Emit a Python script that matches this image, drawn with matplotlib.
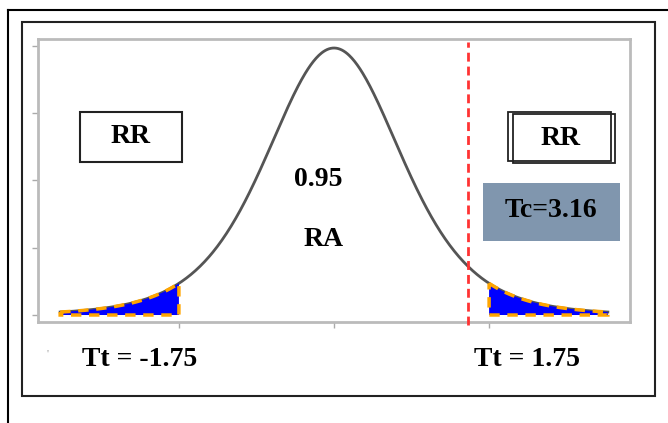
import numpy as np
import matplotlib
matplotlib.use('Agg')
import matplotlib.pyplot as plt
from matplotlib.patches import Rectangle, Polygon
from matplotlib.lines import Line2D

plt.rcParams['font.family'] = ['Liberation Serif', 'DejaVu Serif']

# t-shaped density, x in t units
df = 6
scale = 0.78
peak = 0.397
x_range = (-3.09, 3.09)
crit = 1.75           # Tt
tc_pos = 1.51         # red dashed line where the picture puts it
y_ticks = [0.0, 0.1, 0.2, 0.3, 0.4]
x_ticks = [-crit, 0.0, crit]
tt_labels = ['Tt = -1.75', 'Tt = 1.75']
tc_label = 'Tc=3.16'
area_label = '0.95'
region_labels = ['RR', 'RA', 'RR']


def density(v):
    return peak * (1 + (v / scale) ** 2 / df) ** (-(df + 1) / 2)


W, H = 668, 423
fig = plt.figure(figsize=(W / 100, H / 100), dpi=100)


def fx(px):
    return px / W


def fy(py):
    return 1 - py / H


# outer frames
fig.add_artist(Line2D([fx(8), 1], [fy(10), fy(10)], color='black', lw=1.5))
fig.add_artist(Line2D([fx(8), fx(8)], [fy(10), 0], color='black', lw=1.5))
fig.add_artist(Rectangle((fx(22), fy(396)), fx(655) - fx(22), fy(22) - fy(396),
                         fill=False, edgecolor='#222222', lw=1.5))

ax = fig.add_axes([fx(38), fy(322), fx(630) - fx(38), fy(39) - fy(322)])

x = np.linspace(x_range[0], x_range[1], 600)
ax.plot(x, density(x), color='#555555', lw=2, zorder=2)

# shaded tails
for lo, hi in [(x_range[0], -crit), (crit, x_range[1])]:
    xt = np.linspace(lo, hi, 120)
    yt = density(xt)
    pts = np.column_stack([np.r_[xt, xt[::-1]], np.r_[yt, np.zeros_like(yt)]])
    ax.add_patch(Polygon(pts, closed=True, facecolor='#0000FF',
                         edgecolor='#FFA500', lw=2.5, ls=(0, (3, 2.2)), zorder=3))

ax.axvline(tc_pos, ymin=-0.012, ymax=0.99, color='#FF3333', lw=2,
           ls=(0, (3.2, 1.8)), clip_on=False, zorder=4)

ax.set_xlim(-3.34, 3.34)
ax.set_ylim(-0.0104, 0.4104)
ax.set_xticks(x_ticks)
ax.set_yticks(y_ticks)
ax.set_xticklabels([])
ax.set_yticklabels([])
ax.tick_params(colors='#AAAAAA', length=4, width=1)
for s in ax.spines.values():
    s.set_color('#BBBBBB')
    s.set_linewidth(2)

bold = dict(fontweight='bold', color='black', fontsize=20)

# RR boxes
ax.add_patch(Rectangle((-2.87, 0.228), 1.15, 0.074, fill=False,
                       edgecolor='#222222', lw=1.5))
ax.text(-2.29, 0.265, region_labels[0], ha='center', va='center', **bold)
ax.add_patch(Rectangle((1.96, 0.229), 1.17, 0.073, fill=False,
                       edgecolor='#222222', lw=1.3))
ax.add_patch(Rectangle((2.02, 0.226), 1.15, 0.073, fill=False,
                       edgecolor='#222222', lw=1.3))
ax.text(2.56, 0.263, region_labels[2], ha='center', va='center', **bold)

# Tc box
ax.add_patch(Rectangle((1.68, 0.110), 1.55, 0.086, facecolor='#8096AE',
                       edgecolor='none'))
ax.text(2.45, 0.155, tc_label, ha='center', va='center', **bold)

ax.text(-0.18, 0.201, area_label, ha='center', va='center', **bold)
ax.text(-0.12, 0.112, region_labels[1], ha='center', va='center', **bold)

# Tt labels under the axis
ax.text(-2.19, -0.066, tt_labels[0], ha='center', va='center', clip_on=False, **bold)
ax.text(2.18, -0.066, tt_labels[1], ha='center', va='center', clip_on=False, **bold)
fig.text(fx(48), fy(354), "'", color='#999999', fontsize=8, ha='center', va='center')

fig.savefig('out.png', dpi=100)
